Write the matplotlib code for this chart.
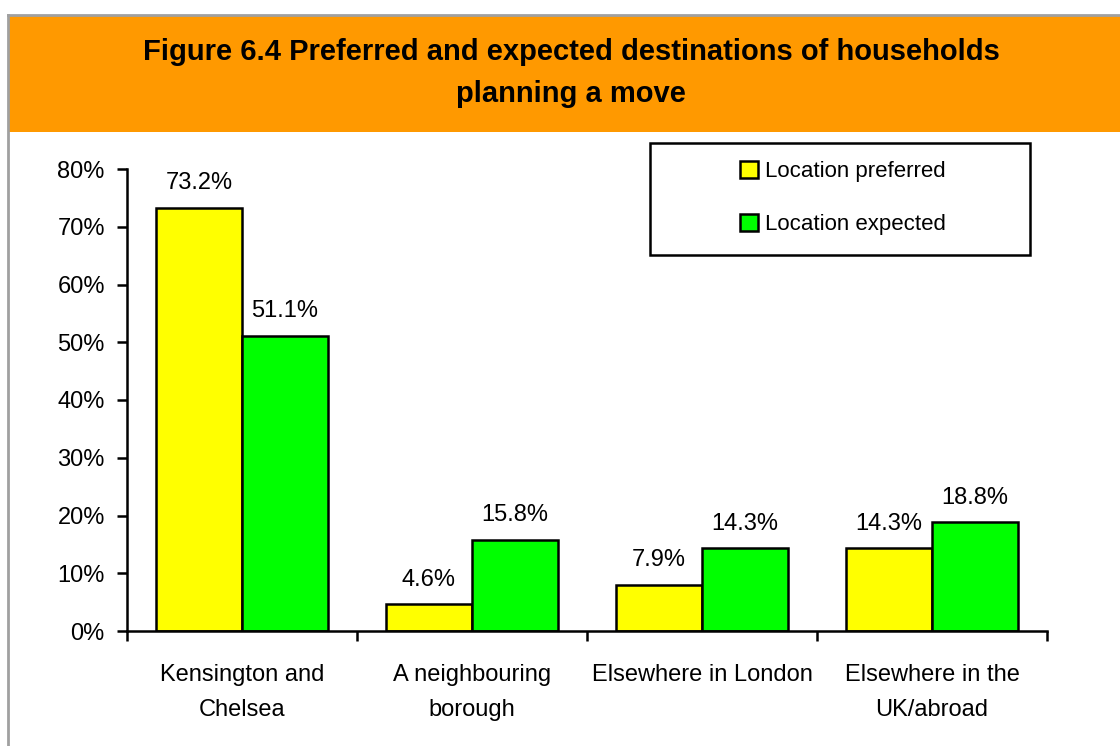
import matplotlib
matplotlib.use("Agg")
import matplotlib.pyplot as plt
from matplotlib.patches import Rectangle
from matplotlib.ticker import FixedLocator, PercentFormatter

plt.rcParams["font.family"] = ["Liberation Sans", "DejaVu Sans"]

categories = ["Kensington and\nChelsea", "A neighbouring\nborough",
              "Elsewhere in London", "Elsewhere in the\nUK/abroad"]
preferred = [73.2, 4.6, 7.9, 14.3]
expected = [51.1, 15.8, 14.3, 18.8]
series_names = ["Location preferred", "Location expected"]
title = "Figure 6.4 Preferred and expected destinations of households\nplanning a move"

W, H = 1120, 746
fig = plt.figure(figsize=(W / 100, H / 100), dpi=100)


def fx(px):
    return px / W


def fy(py):
    return 1 - py / H


# frame + orange header
fig.add_artist(Rectangle((fx(8), fy(132)), fx(1120 - 8), (132 - 16) / H,
                         transform=fig.transFigure, facecolor="#FF9900",
                         edgecolor="none"))
fig.add_artist(plt.Line2D([fx(8), fx(8)], [fy(15), 0], transform=fig.transFigure,
                          color="#A0A0A0", lw=2))
fig.add_artist(plt.Line2D([fx(8), 1], [fy(15), fy(15)], transform=fig.transFigure,
                          color="#A0A0A0", lw=2))
fig.text(fx(571), fy(73), title, ha="center", va="center", fontsize=21,
         fontweight="bold", linespacing=1.68)

ax = fig.add_axes([fx(127), fy(631), fx(1047 - 127), (631 - 169) / H])
n = len(categories)
x = [i + 0.5 for i in range(n)]
bw = 86 / 230
b1 = ax.bar([v - bw / 2 for v in x], preferred, bw, color="#FFFF00",
            edgecolor="black", linewidth=1.8, label=series_names[0])
b2 = ax.bar([v + bw / 2 for v in x], expected, bw, color="#00FF00",
            edgecolor="black", linewidth=1.8, label=series_names[1])
for b in (b1, b2):
    ax.bar_label(b, labels=[f"{v:.1f}%" for v in b.datavalues], padding=10,
                 fontsize=17)

ax.set_xlim(0, n)
ax.set_ylim(0, 80)
ax.yaxis.set_major_locator(FixedLocator(range(0, 81, 10)))
ax.yaxis.set_major_formatter(PercentFormatter(decimals=0))
ax.set_xticks(x)
ax.set_xticklabels(categories, fontsize=17, linespacing=1.75)
ax.xaxis.set_minor_locator(FixedLocator(range(n + 1)))
ax.tick_params(axis="x", which="major", length=0, pad=24)
ax.tick_params(axis="x", which="minor", length=7, width=1.8, direction="out")
ax.tick_params(axis="y", length=7, width=1.8, labelsize=17, pad=9)
for s in ("top", "right"):
    ax.spines[s].set_visible(False)
for s in ("left", "bottom"):
    ax.spines[s].set_linewidth(1.8)

# legend box
fig.add_artist(Rectangle((fx(650), fy(255)), fx(1030 - 650), (255 - 143) / H,
                         transform=fig.transFigure, facecolor="white",
                         edgecolor="black", linewidth=1.8))
fig.legend(handles=[b1, b2], loc="center", bbox_to_anchor=(fx(843), fy(198)),
           frameon=False, fontsize=16, handlelength=0.8, handleheight=0.8,
           handletextpad=0.3, labelspacing=1.4)

fig.savefig("out.png", dpi=100)
